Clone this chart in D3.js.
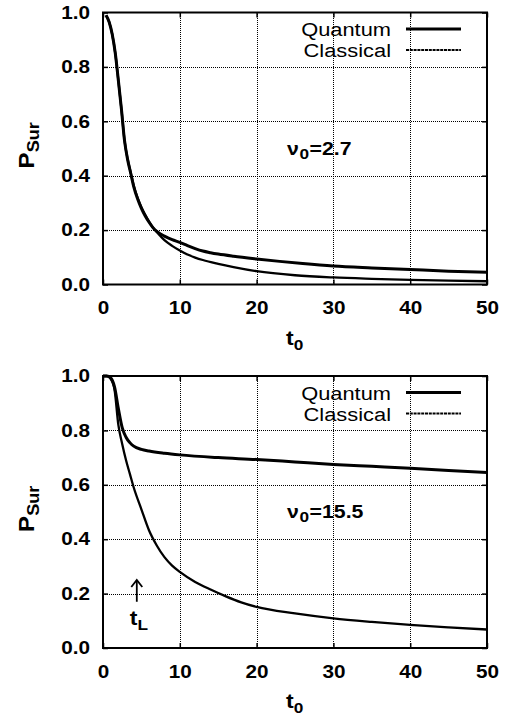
<!DOCTYPE html>
<html>
<head>
<meta charset="utf-8">
<script src="https://cdn.jsdelivr.net/npm/d3@7"></script>
<style>
  html, body { margin: 0; padding: 0; background: #fff; }
  svg { display: block; font-family: "Liberation Sans", Arial, Helvetica, sans-serif; }
</style>
</head>
<body>
<svg id="chart" width="508" height="717"></svg>
<script>
// Survival probability P_Sur versus t0, quantum and classical, for two values of v0.
const xTicks = [0, 10, 20, 30, 40, 50];
const yTicks = [0, 0.2, 0.4, 0.6, 0.8, 1.0];
const seriesNames = ["Quantum", "Classical"];
const nuLabels = ["2.7", "15.5"];

// upper panel, v0 = 2.7
const tTopQuantum = [0.4, 0.8, 1.2, 1.6, 2.0, 2.4, 2.8, 3.2, 3.6, 4.0, 4.5, 5.0, 5.5, 6.0, 6.5, 7.0,
  8, 9, 10, 11, 12, 13, 14, 15, 17, 20, 23, 26, 30, 35, 40, 45, 50];
const pTopQuantum = [0.99, 0.965, 0.92, 0.85, 0.75, 0.645, 0.53, 0.46, 0.41, 0.36, 0.315, 0.28, 0.252, 0.229, 0.209, 0.195,
  0.178, 0.165, 0.155, 0.143, 0.132, 0.123, 0.117, 0.112, 0.104, 0.094, 0.085, 0.077, 0.068, 0.061, 0.055, 0.049, 0.045];
const tTopClassical = [0.4, 0.8, 1.2, 1.6, 2.0, 2.4, 2.8, 3.2, 3.6, 4.0, 4.5, 5.0, 5.5, 6.0, 6.5, 7.0,
  8, 9, 10, 11, 12, 13, 15, 17, 20, 25, 30, 35, 40, 45, 50];
const pTopClassical = [0.99, 0.965, 0.92, 0.85, 0.75, 0.645, 0.53, 0.462, 0.413, 0.364, 0.319, 0.284, 0.256, 0.231, 0.21, 0.193,
  0.163, 0.142, 0.125, 0.11, 0.099, 0.09, 0.076, 0.064, 0.049, 0.034, 0.026, 0.021, 0.017, 0.014, 0.012];

// lower panel, v0 = 15.5
const tBottomQuantum = [0, 0.5, 1.0, 1.5, 2.0, 2.5, 3.0, 3.5, 4.0, 5, 6, 8, 10, 15, 20, 25, 30, 35, 40, 45, 50];
const pBottomQuantum = [1.0, 1.0, 0.993, 0.96, 0.88, 0.81, 0.775, 0.755, 0.742, 0.73, 0.724, 0.716, 0.71, 0.70,
  0.693, 0.684, 0.675, 0.668, 0.661, 0.653, 0.645];
const tBottomClassical = [0, 0.5, 1.0, 1.5, 2.0, 2.5, 3.0, 3.5, 4.0, 5, 6, 7, 8, 9, 10, 12, 14, 16, 18, 20,
  25, 30, 35, 40, 45, 50];
const pBottomClassical = [1.0, 1.0, 0.99, 0.95, 0.82, 0.75, 0.69, 0.64, 0.59, 0.51, 0.432, 0.377, 0.334, 0.303, 0.28,
  0.243, 0.215, 0.19, 0.168, 0.151, 0.127, 0.109, 0.096, 0.085, 0.076, 0.068];

// marker for t_L in the lower panel
const tL = 4.4;
const tLArrow = [0.17, 0.25];

const SX = 1.15;           // glyphs are drawn slightly wide
const left = 103, right = 487, plotH = 272;
const svg = d3.select("#chart");
svg.append("rect").attr("width", 508).attr("height", 717).attr("fill", "#fff");

function stretchedText(g, x, y) {
  return g.append("text").attr("transform", `translate(${x},${y}) scale(${SX},1)`);
}

function drawPanel(top, quantum, classical, nuLabel, withMarker) {
  const bottom = top + plotH;
  const x = d3.scaleLinear().domain([0, 50]).range([left, right]);
  const y = d3.scaleLinear().domain([0, 1]).range([bottom, top]);
  const g = svg.append("g");

  // dotted grid
  const gridX = g.append("g").attr("transform", `translate(0,${bottom})`)
    .call(d3.axisBottom(x).tickValues(xTicks.slice(1, -1)).tickSize(-plotH).tickFormat(""));
  const gridY = g.append("g").attr("transform", `translate(${left},0)`)
    .call(d3.axisLeft(y).tickValues(yTicks.slice(1, -1)).tickSize(-(right - left)).tickFormat(""));
  [gridX, gridY].forEach(a => {
    a.select(".domain").remove();
    a.selectAll("line").attr("stroke", "#000").attr("stroke-width", 1)
      .attr("stroke-dasharray", "1,1").attr("shape-rendering", "crispEdges");
  });

  // inward tick marks on all four sides
  const tickLen = 5;
  const marks = [
    g.append("g").attr("transform", `translate(0,${bottom})`).call(d3.axisBottom(x).tickValues(xTicks).tickSize(-tickLen).tickFormat("")),
    g.append("g").attr("transform", `translate(0,${top})`).call(d3.axisTop(x).tickValues(xTicks).tickSize(-tickLen).tickFormat("")),
    g.append("g").attr("transform", `translate(${left},0)`).call(d3.axisLeft(y).tickValues(yTicks).tickSize(-tickLen).tickFormat("")),
    g.append("g").attr("transform", `translate(${right},0)`).call(d3.axisRight(y).tickValues(yTicks).tickSize(-tickLen).tickFormat(""))
  ];
  marks.forEach(a => {
    a.select(".domain").remove();
    a.selectAll("line").attr("stroke", "#000").attr("stroke-width", 1.5);
  });

  // tick labels
  const yLab = g.append("g").attr("transform", `translate(${left},0)`)
    .call(d3.axisLeft(y).tickValues(yTicks).tickSize(0).tickFormat(d3.format(".1f")));
  yLab.select(".domain").remove();
  yLab.selectAll("text").attr("x", -13 / SX).attr("transform", `scale(${SX},1)`)
    .attr("font-size", 18).attr("font-weight", "bold").attr("fill", "#000")
    .attr("font-family", "Liberation Sans, Arial, sans-serif");

  const xLab = g.append("g").attr("transform", `translate(0,${bottom})`)
    .call(d3.axisBottom(x).tickValues(xTicks).tickSize(0).tickFormat(d3.format("d")));
  xLab.select(".domain").remove();
  xLab.selectAll("text").attr("y", 30).attr("dy", null).attr("transform", `scale(${SX},1)`)
    .attr("font-size", 18).attr("font-weight", "bold").attr("fill", "#000")
    .attr("font-family", "Liberation Sans, Arial, sans-serif");

  // curves
  const line = d3.line().x(d => x(d[0])).y(d => y(d[1])).curve(d3.curveMonotoneX);
  g.append("path").datum(d3.zip(classical[0], classical[1])).attr("d", line)
    .attr("fill", "none").attr("stroke", "#000").attr("stroke-width", 2.3).attr("stroke-linejoin", "round");
  g.append("path").datum(d3.zip(quantum[0], quantum[1])).attr("d", line)
    .attr("fill", "none").attr("stroke", "#000").attr("stroke-width", 3).attr("stroke-linejoin", "round");

  // frame
  g.append("rect").attr("x", left).attr("y", top).attr("width", right - left).attr("height", plotH)
    .attr("fill", "none").attr("stroke", "#000").attr("stroke-width", 2);

  // legend
  const legend = g.append("g").attr("transform", `translate(0,${top})`);
  const widths = [3, 2];
  seriesNames.forEach((name, i) => {
    const base = 23.5 + i * 21;
    stretchedText(legend, 391, base).attr("text-anchor", "end")
      .attr("font-size", 19).attr("fill", "#000").text(name);
    legend.append("line").attr("x1", 406).attr("x2", 461)
      .attr("y1", base - 7).attr("y2", base - 7)
      .attr("stroke", "#000").attr("stroke-width", widths[i])
      .attr("stroke-dasharray", i === 1 ? "3,0.8" : null);
  });

  // v0 annotation
  const nu = stretchedText(g, 287, top + 142).attr("font-size", 18.5).attr("font-weight", "bold").attr("fill", "#000");
  nu.append("tspan").text("ν");
  nu.append("tspan").attr("font-size", 15).attr("dy", 4).attr("dx", 0.5).text("0");
  nu.append("tspan").attr("dy", -4).attr("dx", 0.5).text("=");
  nu.append("tspan").text(nuLabel);

  // axis titles
  const xt = stretchedText(g, 286, bottom + 60).attr("font-size", 20).attr("font-weight", "bold").attr("fill", "#000");
  xt.append("tspan").text("t");
  xt.append("tspan").attr("font-size", 15).attr("dy", 5).text("0");

  const yt = g.append("text").attr("transform", `translate(34,${top + 156}) rotate(-90) scale(1.1,1)`)
    .attr("font-weight", "bold").attr("fill", "#000");
  yt.append("tspan").attr("font-size", 22).text("P");
  yt.append("tspan").attr("font-size", 16.5).attr("dy", 5).text("Sur");

  if (withMarker) {
    const ax = x(tL), y0 = y(tLArrow[0]), y1 = y(tLArrow[1]);
    g.append("line").attr("x1", ax).attr("x2", ax).attr("y1", y0).attr("y2", y1)
      .attr("stroke", "#000").attr("stroke-width", 1.8);
    g.append("path").attr("d", `M${ax - 5.5},${y1 + 7} L${ax},${y1} L${ax + 5.5},${y1 + 7}`)
      .attr("fill", "none").attr("stroke", "#000").attr("stroke-width", 1.8);
    const lab = stretchedText(g, ax - 7, y0 + 23).attr("font-size", 20).attr("font-weight", "bold").attr("fill", "#000");
    lab.append("tspan").text("t");
    lab.append("tspan").attr("font-size", 15).attr("dy", 5).text("L");
  }
}

drawPanel(12.5, [tTopQuantum, pTopQuantum], [tTopClassical, pTopClassical], nuLabels[0], false);
drawPanel(376, [tBottomQuantum, pBottomQuantum], [tBottomClassical, pBottomClassical], nuLabels[1], true);
</script>
</body>
</html>
